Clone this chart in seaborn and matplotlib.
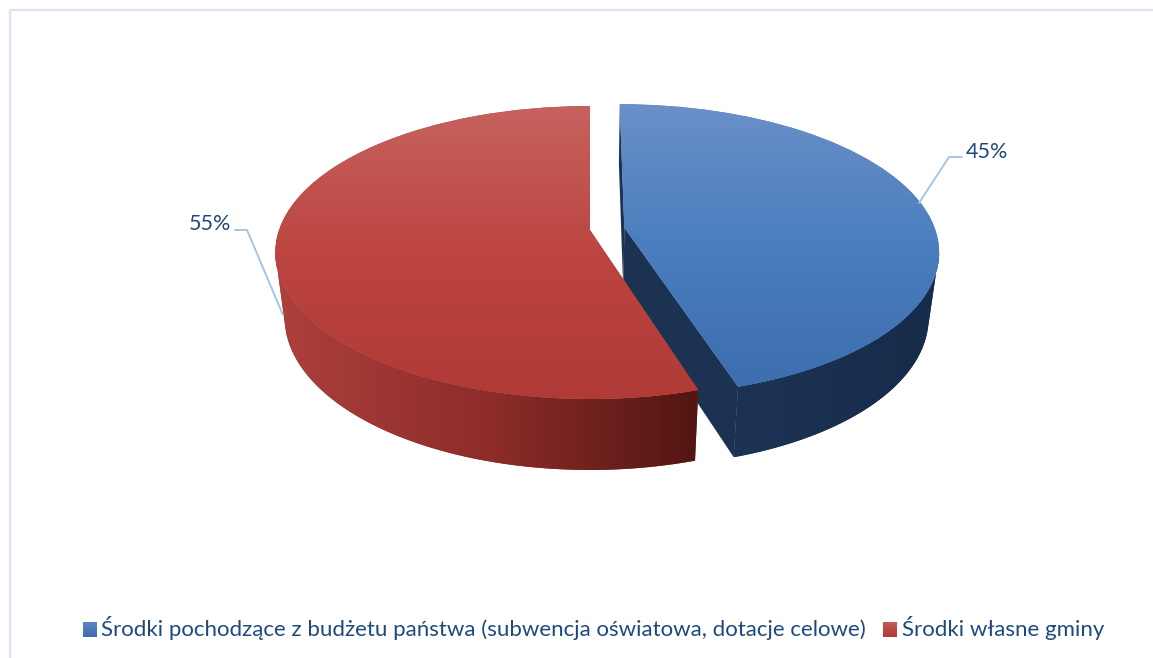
import numpy as np
import matplotlib
matplotlib.use("Agg")
import matplotlib.pyplot as plt
import seaborn as sns
from matplotlib.legend_handler import HandlerBase
from matplotlib.patches import Polygon, Rectangle
from matplotlib.transforms import Transform

categories = ["Środki pochodzące z budżetu państwa (subwencja oświatowa, dotacje celowe)",
              "Środki własne gminy"]
values = [45.2, 54.8]
explode = [0.112, 0.0]
top_colors = [["#6B90C8", "#4A7EBE", "#3D6DAF"], ["#C6625E", "#BC4541", "#B03A36"]]
side_colors = [["#1C3554", "#1B3252", "#172B4A"], ["#AC403C", "#8E2D2A", "#521612"]]
legend_colors = [["#5B86C4", "#3D6FB2"], ["#C65A56", "#B23A36"]]
text_color = "#1F497D"
leader_color = "#9DC3E6"
frame_color = "#D9E5F6"

sns.set_theme(style="white")
plt.rcParams["font.family"] = ["Lato", "DejaVu Sans"]

W, H = 1153, 658
CX, AY, R, PC, PA = 590.0, 230.0, 311.0, 0.1536, -107.7
KX, KY, DY = 0.97, 1.04, 55.0


def project(xy):
    xy = np.asarray(xy, dtype=float)
    d = 1 + PC * xy[..., 1]
    return np.stack([CX + R * xy[..., 0] / d, (PA * xy[..., 1] + AY) / d], axis=-1)


def drop(p):
    return np.stack([CX + KX * (p[..., 0] - CX), KY * p[..., 1] + DY], axis=-1)


class Perspective(Transform):
    input_dims = output_dims = 2
    is_affine = False
    has_inverse = False

    def transform_non_affine(self, values):
        return project(values)


fig = plt.figure(figsize=(W / 100, H / 100), dpi=100, facecolor="white")
ax = fig.add_axes([0, 0, 1, 1])
wedges, _ = ax.pie(values, explode=explode, startangle=90, counterclock=False,
                   colors=[c[1] for c in top_colors], frame=False)
persp = Perspective() + ax.transData


def gradient(cols, clip, extent, horizontal, z):
    cmap = sns.blend_palette(cols, as_cmap=True)
    g = np.linspace(0, 1, 256)
    g = g[None, :] if horizontal else g[:, None]
    im = ax.imshow(g, cmap=cmap, extent=extent, aspect="auto", origin="upper",
                   interpolation="bilinear", zorder=z)
    im.set_clip_path(clip)


for i, side in zip((0, 1), (1, -1)):
    w = wedges[i]
    base = 10 * (i + 1)
    w.set_transform(persp)
    w.set_zorder(base + 2)
    w.set_linewidth(0)
    # rim runs clockwise from the slice's start to its end; index 0 is the front tip
    t = np.radians(np.linspace(w.theta1, w.theta2, 360))
    if i == 1:
        t = t[::-1]
    c = np.array(w.center)
    rim = np.stack([c[0] + np.cos(t), c[1] + np.sin(t)], axis=-1)
    top = project(rim)
    low = drop(top)
    apex = project(c)
    apex_low = drop(apex)
    # visible wall: from the tip round to the silhouette tangent at the widest point
    e = int(np.argmax(side * top[:, 0]))
    below = low[:, 1] > top[e, 1] + 1
    slope = np.where(below, side * (low[:, 0] - top[e, 0]) / np.maximum(low[:, 1] - top[e, 1], 1), -np.inf)
    j = int(np.argmax(slope))
    wall = Polygon(np.vstack([top[:e + 1], low[:j + 1][::-1]]), closed=True,
                   fc=side_colors[i][1], lw=0, zorder=base)
    ax.add_patch(wall)
    gradient(side_colors[i], wall, (top[:, 0].min(), top[:, 0].max(), low[:, 1].max(), top[:, 1].min()),
             True, base + 0.5)
    if i == 0:
        for end in (0, -1):
            cut = Polygon([apex, top[end], low[end], apex_low], closed=True,
                          fc=side_colors[i][1], lw=0, zorder=base + 1)
            ax.add_patch(cut)
    ext = (top[:, 0].min() - 2, top[:, 0].max() + 2, top[:, 1].max() + 2, top[:, 1].min() - 2)
    gradient(top_colors[i], w, ext, False, base + 3)

ax.set_xlim(0, W)
ax.set_ylim(H, 0)
ax.set_aspect("auto")
ax.axis("off")
ax.plot([9.5, 9.5, W], [H, 10, 10], color=frame_color, lw=1.7, zorder=1, solid_joinstyle="miter")

ax.annotate(f"{values[0]:.0f}%", xy=(919, 203), xytext=(966, 151.5), fontsize=15.5, color=text_color,
            ha="left", va="center", zorder=50)
ax.plot([919, 949, 962], [203, 157, 157], color=leader_color, lw=1.3, zorder=50)
ax.annotate(f"{values[1]:.0f}%", xy=(283, 315), xytext=(231, 223.5), fontsize=15.5, color=text_color,
            ha="right", va="center", zorder=50)
ax.plot([283, 247, 235], [315, 230, 230], color=leader_color, lw=1.3, zorder=50)


class GradientHandler(HandlerBase):
    def create_artists(self, legend, handle, x0, y0, width, height, fontsize, trans):
        n = 14
        cmap = sns.blend_palette(handle.cols, as_cmap=True)
        return [Rectangle((x0, y0 + height * (n - 1 - k) / n), width, height / n + 0.2,
                          fc=cmap(k / (n - 1)), lw=0, transform=trans) for k in range(n)]


handles = []
for cols in legend_colors:
    h = Rectangle((0, 0), 1, 1, fc=cols[0])
    h.cols = cols
    handles.append(h)
leg = ax.legend(handles, categories, ncol=2, loc="center left", bbox_to_anchor=(83 / W, 1 - 628 / H),
                frameon=False, fontsize=16, labelcolor=text_color, handlelength=0.63, handleheight=0.63,
                handletextpad=0.2, columnspacing=0.77, borderpad=0, borderaxespad=0,
                handler_map={Rectangle: GradientHandler()})
leg.set_zorder(60)

fig.savefig("out.png", dpi=100, facecolor="white")
